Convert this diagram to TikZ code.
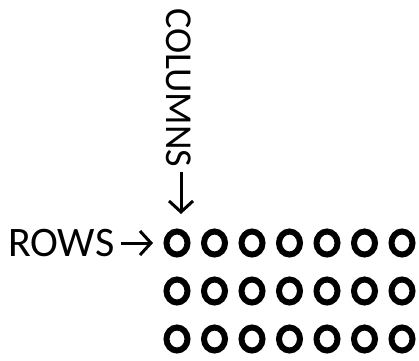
\documentclass[tikz,border=0pt]{standalone}
\usepackage{fontspec}
\setmainfont{Carlito}
\usetikzlibrary{arrows.meta,shapes.geometric}
\begin{document}
\begin{tikzpicture}[x=1pt,y=-1pt,
  ring/.style={ellipse,draw=black,line width=6pt,minimum width=21pt,minimum height=23pt,inner sep=0pt,outer sep=0pt},
  lbl/.style={font=\fontsize{42}{46}\selectfont,inner sep=0pt},
  arr/.style={line width=3pt,-{Straight Barb[length=11pt,width=24pt,line width=3pt]}}]
\useasboundingbox (0,0) rectangle (419,360);
\foreach \r/\yy in {1/243,2/291,3/339}{
  \foreach \c in {1,...,7}{
    \node[ring] (d\r\c) at ({177+37.5*(\c-1)},\yy) {};
  }
}
\node[lbl,anchor=west] (rows) at (8,243) {ROWS};
\coordinate (ra) at (121,243);
\coordinate (rb) at (153,243);
\draw[arr] (ra) -- (rb);
\node[lbl,font=\fontsize{38}{42}\selectfont,rotate=-90,anchor=south west] (cols) at (166,8) {COLUMNS};
\coordinate (ca) at (181,172);
\coordinate (cb) at (181,214);
\draw[arr] (ca) -- (cb);
\end{tikzpicture}
\end{document}
